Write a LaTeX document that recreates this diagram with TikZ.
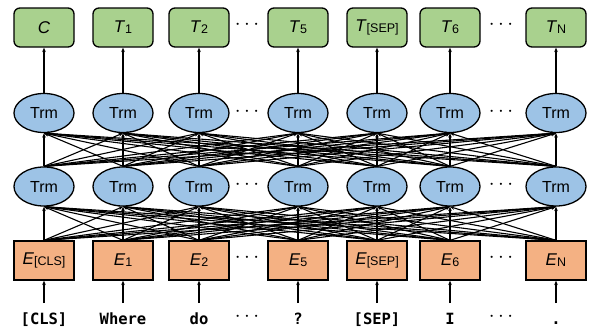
\documentclass[tikz,border=0pt]{standalone}
\usepackage{fontspec}
\setmainfont{Liberation Sans}
\newfontfamily\tokfont{DejaVu Sans Mono}
\usetikzlibrary{arrows.meta,shapes.geometric}

\definecolor{outgreen}{RGB}{169,209,142}
\definecolor{trmblue}{RGB}{157,195,230}
\definecolor{embpeach}{RGB}{244,177,131}

% italic symbol with a smaller upright index on (nearly) the same baseline
\newcommand\symidx[2]{\textit{#1}\raisebox{-0.8pt}{\fontsize{12.5}{12.5}\selectfont #2}}

\tikzset{
  boxbase/.style={draw, line width=1.3pt, minimum width=60pt, minimum height=39pt,
                  inner sep=0pt, font=\fontsize{17}{17}\selectfont},
  outbox/.style={boxbase, rounded corners=6pt, fill=outgreen},
  embbox/.style={boxbase, fill=embpeach},
  trm/.style={ellipse, draw, line width=1.3pt, fill=trmblue, minimum width=60pt,
              minimum height=39pt, inner sep=0pt, font=\fontsize{16}{16}\selectfont},
  tok/.style={anchor=base, inner sep=0pt, font=\tokfont\bfseries\fontsize{15.5}{15.5}\selectfont},
  gap/.style={font=\fontsize{20}{20}\selectfont, inner sep=0pt},
  link/.style={-{Stealth[length=4.5pt,width=3.6pt]}, line width=1.1pt},
}

\begin{document}
\begin{tikzpicture}[x=1pt, y=-1pt]
  \useasboundingbox (0,0) rectangle (590,332);

  % columns: index / x position / output / embedding / input token
  \foreach \i/\x/\o/\e/\w in {
      1/44/{\textit{C}}/{\symidx{E}{[CLS]}}/{[CLS]},
      2/123/{\symidx{T}{1}}/{\symidx{E}{1}}/{Where},
      3/199/{\symidx{T}{2}}/{\symidx{E}{2}}/{do},
      4/298/{\symidx{T}{5}}/{\symidx{E}{5}}/{?},
      5/377/{\symidx{T}{[SEP]}}/{\symidx{E}{[SEP]}}/{[SEP]},
      6/450/{\symidx{T}{6}}/{\symidx{E}{6}}/{I},
      7/556/{\symidx{T}{N}}/{\symidx{E}{N}}/{.}} {
    \node[outbox] (o\i) at (\x,27.5) {\o};
    \node[trm]    (t\i) at (\x,113)  {Trm};
    \node[trm]    (b\i) at (\x,186.5){Trm};
    \node[embbox] (e\i) at (\x,260.5){\e};
    \node[tok]    (w\i) at (\x,324.5){\w};
    \coordinate   (in\i) at (\x,303);
  }

  % ellipses between the columns
  \foreach \x/\k in {247/a,501/b} {
    \node[gap] (dots\k1) at (\x,25)  {$\cdots$};
    \node[gap] (dots\k2) at (\x,112) {$\cdots$};
    \node[gap] (dots\k3) at (\x,185) {$\cdots$};
    \node[gap] (dots\k4) at (\x,258) {$\cdots$};
    \node[gap] (dots\k5) at (\x,317) {$\cdots$};
  }

  % token inputs and final outputs
  \foreach \i in {1,...,7} {
    \draw[link] (in\i) -- (e\i.south);
    \draw[link] (t\i.north) -- (o\i.south);
  }

  % fully connected layers
  \foreach \i in {1,...,7} {
    \foreach \j in {1,...,7} {
      \draw[link] (e\i.north) -- (b\j.south);
      \draw[link] (b\i.north) -- (t\j.south);
    }
  }
\end{tikzpicture}
\end{document}
